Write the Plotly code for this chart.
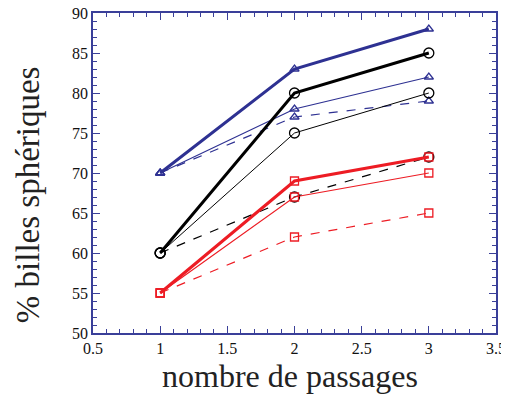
import plotly.graph_objects as go

# ── Data ─────────────────────────────────────────────────────────────────────
passages = [1, 2, 3]

blue_thick  = [70, 83, 88]
blue_thin   = [70, 78, 82]
blue_dash   = [70, 77, 79]
black_thick = [60, 80, 85]
black_thin  = [60, 75, 80]
black_dash  = [60, 67, 72]
red_thick   = [55, 69, 72]
red_thin    = [55, 67, 70]
red_dash    = [55, 62, 65]

BLUE  = "#2E3192"
BLACK = "#000000"
RED   = "#ED1C24"
AXIS  = "#3A3F99"
FONT  = "Liberation Serif"

# (values, color, width, dash, symbol, size)
series = [
    (blue_dash,   BLUE,  1.2, "dash",  "triangle-up-open", 8),
    (blue_thin,   BLUE,  1.2, "solid", "triangle-up-open", 8),
    (blue_thick,  BLUE,  3.0, "solid", "triangle-up-open", 8),
    (black_dash,  BLACK, 1.2, "dash",  "circle-open", 10),
    (black_thin,  BLACK, 1.0, "solid", "circle-open", 10),
    (black_thick, BLACK, 3.0, "solid", "circle-open", 10),
    (red_dash,    RED,   1.2, "dash",  "square-open", 8),
    (red_thin,    RED,   1.2, "solid", "square-open", 8),
    (red_thick,   RED,   3.0, "solid", "square-open", 8),
]

fig = go.Figure()
for vals, col, w, dash, sym, sz in series:
    fig.add_trace(go.Scatter(
        x=passages, y=vals, mode="lines+markers",
        line=dict(color=col, width=w, dash=dash),
        marker=dict(symbol=sym, size=sz, color=col, line=dict(color=col, width=1.3)),
        showlegend=False,
    ))

axis_common = dict(
    showgrid=False, zeroline=False, automargin=False,
    showline=True, linecolor=AXIS, linewidth=1.5, mirror="allticks",
    ticks="inside", tickcolor=AXIS, ticklen=7, tickwidth=1,
    ticklabeloverflow="allow",
    tickfont=dict(family=FONT, size=16, color="#111"),
)

# page body has an 8px margin, so the figure is a bit smaller than the window
fig.update_layout(
    width=501, height=386,
    paper_bgcolor="white", plot_bgcolor="white",
    margin=dict(l=85, r=13, t=5, b=61),
    font=dict(family=FONT),
    xaxis=dict(
        range=[0.5, 3.5], dtick=0.5, tick0=0.5,
        minor=dict(dtick=0.1, ticks="inside", ticklen=4, tickcolor=AXIS),
        **axis_common,
    ),
    yaxis=dict(
        range=[50, 90], dtick=5,
        minor=dict(dtick=1, ticks="inside", ticklen=4, tickcolor=AXIS),
        **axis_common,
    ),
    annotations=[
        dict(text="nombre de passages", xref="paper", yref="paper", x=0.49, y=-0.135,
             xanchor="center", yanchor="middle", showarrow=False,
             font=dict(family=FONT, size=32, color="#222")),
        dict(text="% billes sphériques", xref="paper", yref="paper", x=-0.161, y=0.431,
             xanchor="center", yanchor="middle", textangle=-90, showarrow=False,
             font=dict(family=FONT, size=33, color="#222")),
    ],
)

fig.write_html("out.html")
